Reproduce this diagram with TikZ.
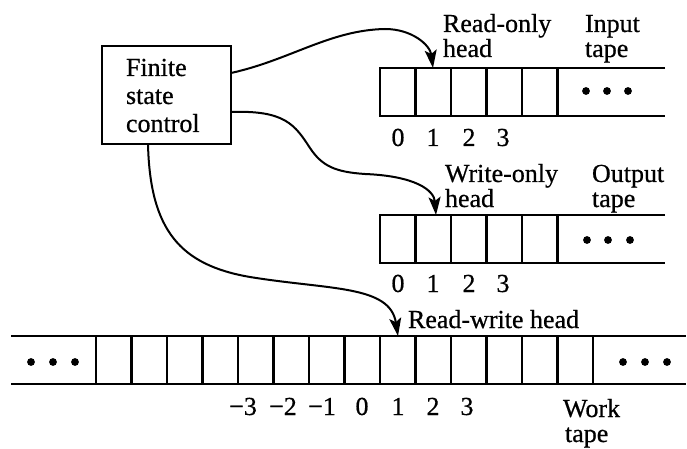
\documentclass[tikz,border=0pt]{standalone}
\usepackage{fontspec}
\setmainfont{Liberation Serif}[UprightFeatures={FakeBold=0.6}]
\usetikzlibrary{arrows.meta}
\begin{document}
\begin{tikzpicture}[x=1pt,y=-1pt,
  every node/.style={inner sep=0pt,outer sep=0pt,font=\fontsize{26}{28}\selectfont},
  lbl/.style={anchor=base west},
  num/.style={anchor=base},
  tapeline/.style={line width=2.2pt},
  dot/.style={fill=black,draw=none},
  conn/.style={line width=2pt,-{Stealth[length=18pt,width=12pt,inset=4pt]}},
  boxstyle/.style={draw,line width=2.2pt,minimum width=129pt,minimum height=98pt}]
\useasboundingbox (0,0) rectangle (687,449);
\fill[white] (0,0) rectangle (687,449);

% finite state control
\node[boxstyle] (fsc) at (166.5,95) {};
\node[lbl] (t1) at (126,76) {Finite};
\node[lbl] (t2) at (126,104) {state};
\node[lbl] (t3) at (126,132) {control};

% input tape
\draw[tapeline] (665,68) -- (380,68) -- (380,116) -- (665,116);
\foreach \k in {1,...,5} \draw[tapeline] (380+35.5*\k,68) -- (380+35.5*\k,116);
\foreach \x in {586,607,628} \fill[dot] (\x,91) circle (3.9);
\foreach \n/\x in {0/398,1/433,2/469,3/503} \node[num] (in\n) at (\x,146) {\n};
\coordinate (ihead) at (433,68);
\node[lbl] (ro1) at (443,32) {Read-only};
\node[lbl] (ro2) at (443,57) {head};
\node[lbl] (it1) at (585,32) {Input};
\node[lbl] (it2) at (585,57) {tape};

% output tape
\draw[tapeline] (665,215) -- (380,215) -- (380,263) -- (665,263);
\foreach \k in {1,...,5} \draw[tapeline] (380+35.5*\k,215) -- (380+35.5*\k,263);
\foreach \x in {587,608,630} \fill[dot] (\x,240) circle (3.9);
\foreach \n/\x in {0/398,1/433,2/469,3/503} \node[num] (out\n) at (\x,292) {\n};
\coordinate (ohead) at (436,215);
\node[lbl] (wo1) at (445,182) {Write-only};
\node[lbl] (wo2) at (445,207) {head};
\node[lbl] (ot1) at (592,182) {Output};
\node[lbl] (ot2) at (592,207) {tape};

% work tape
\draw[tapeline] (11,336) -- (686,336);
\draw[tapeline] (11,384) -- (686,384);
\foreach \k in {0,...,14} \draw[tapeline] (96+35.5*\k,336) -- (96+35.5*\k,384);
\foreach \x in {31,53,75} \fill[dot] (\x,362) circle (3.9);
\foreach \x in {623,645,667} \fill[dot] (\x,362) circle (3.9);
\node[num] (wm3) at (243,415) {−3};
\node[num] (wm2) at (283,415) {−2};
\node[num] (wm1) at (322,415) {−1};
\foreach \n/\x in {0/362,1/398,2/433,3/467} \node[num] (w\n) at (\x,415) {\n};
\coordinate (whead) at (398,336);
\node[lbl] (rw) at (408,328) {Read-write head};
\node[lbl] (wt1) at (563,417) {Work};
\node[lbl] (wt2) at (565,442) {tape};

% connectors
\draw[conn] (fsc.east |- 0,73) .. controls (290,60) and (330,30) .. (385,29)
  .. controls (412,29) and (430,45) .. (ihead);
\draw[conn] (fsc.east |- 0,112) .. controls (285,110) and (295,125) .. (310,148)
  .. controls (322,166) and (335,172) .. (365,174)
  .. controls (415,176) and (434,190) .. (ohead);
\draw[conn] (fsc.south -| 148,0) .. controls (150,230) and (180,265) .. (250,277)
  .. controls (330,290) and (390,285) .. (whead);
\end{tikzpicture}
\end{document}
